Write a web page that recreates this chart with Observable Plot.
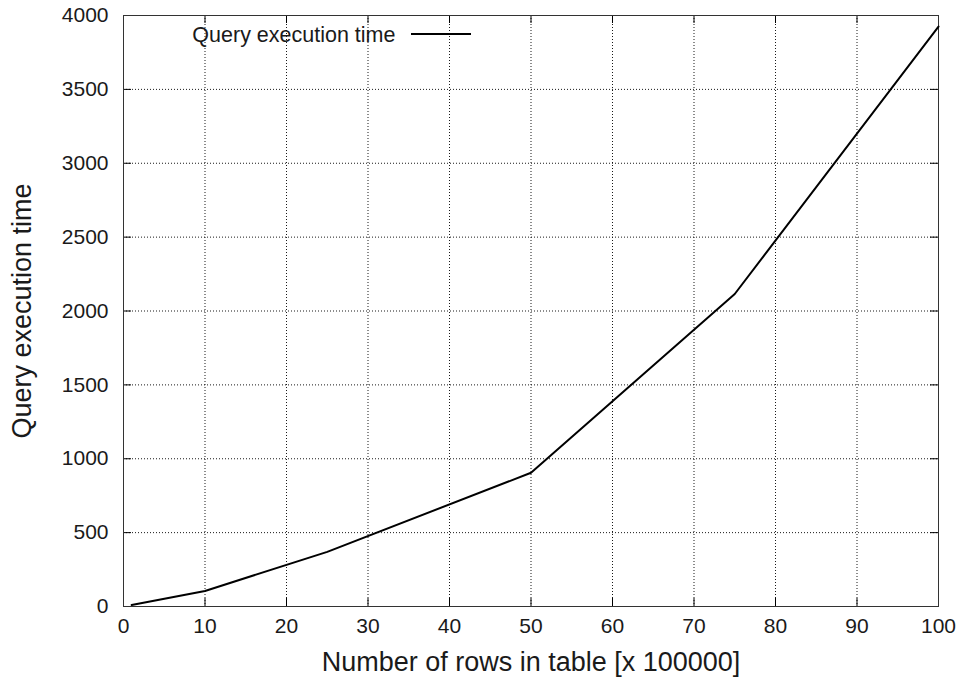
<!DOCTYPE html>
<html>
<head>
<meta charset="utf-8">
<script src="https://cdn.jsdelivr.net/npm/d3@7"></script>
<script src="https://cdn.jsdelivr.net/npm/@observablehq/plot@0.6"></script>
<style>
  html, body { margin: 0; padding: 0; background: #fff; }
  #wrap { position: relative; width: 966px; height: 677px; font-family: "Liberation Sans", Arial, sans-serif; }
  #legend { position: absolute; left: 0; top: 0; width: 966px; height: 677px; pointer-events: none; }
  #legend .sw { position: absolute; left: 411px; top: 33px; width: 60px; height: 0; border-top: 2px solid #000; }
</style>
</head>
<body>
<div id="wrap"></div>
<script>
const rows = [1, 10, 25, 50, 75, 100];
const times = [10, 105, 370, 905, 2115, 3925];
const xTicks = [0, 10, 20, 30, 40, 50, 60, 70, 80, 90, 100];
const yTicks = [0, 500, 1000, 1500, 2000, 2500, 3000, 3500, 4000];
const seriesName = "Query execution time";
const xTitle = "Number of rows in table [x 100000]";
const yTitle = "Query execution time";

const data = rows.map((r, i) => ({rows: r, time: times[i]}));

const W = 966, H = 677, mL = 123, mR = 28, mT = 15, mB = 71;
const plotW = W - mL - mR, plotH = H - mT - mB;
const font = "Liberation Sans, Arial, sans-serif";
const ink = "#1a1a1a";

const chart = Plot.plot({
  width: W,
  height: H,
  marginLeft: mL,
  marginRight: mR,
  marginTop: mT,
  marginBottom: mB,
  style: {fontFamily: font, background: "#fff", color: ink},
  x: {domain: [0, 100], axis: null},
  y: {domain: [0, 4000], axis: null},
  marks: [
    Plot.gridX(xTicks, {stroke: "#000", strokeOpacity: 0.9, strokeDasharray: "1,2"}),
    Plot.gridY(yTicks, {stroke: "#000", strokeOpacity: 0.9, strokeDasharray: "1,2"}),
    // inward ticks on all four sides
    Plot.tickX(xTicks, {x: d => d, stroke: "#000", insetTop: plotH - 8}),
    Plot.tickX(xTicks, {x: d => d, stroke: "#000", insetBottom: plotH - 8}),
    Plot.tickY(yTicks, {y: d => d, stroke: "#000", insetRight: plotW - 8}),
    Plot.tickY(yTicks, {y: d => d, stroke: "#000", insetLeft: plotW - 8}),
    Plot.frame({stroke: "#333"}),
    // tick labels
    Plot.text(xTicks, {x: d => d, text: d => String(d), frameAnchor: "bottom", dy: 12, lineAnchor: "top", textAnchor: "middle", fontSize: 21, fill: ink}),
    Plot.text(yTicks, {y: d => d, text: d => String(d), frameAnchor: "left", dx: -15, lineAnchor: "middle", textAnchor: "end", fontSize: 21, fill: ink}),
    Plot.line(data, {x: "rows", y: "time", stroke: "#000", strokeWidth: 2}),
    // legend label
    Plot.text([seriesName], {text: d => d, frameAnchor: "top-left", dx: 272, dy: 19.5, lineAnchor: "middle", textAnchor: "end", fontSize: 21.5, fill: ink}),
    Plot.text([xTitle], {text: d => d, frameAnchor: "bottom", dy: 56, fontSize: 27, fill: ink, lineAnchor: "middle", textAnchor: "middle"}),
    Plot.text([yTitle], {text: d => d, frameAnchor: "left", dx: -101, rotate: -90, fontSize: 27, fill: ink, lineAnchor: "middle", textAnchor: "middle"})
  ]
});

const wrap = document.getElementById("wrap");
wrap.appendChild(chart);
const legend = document.createElement("div");
legend.id = "legend";
legend.innerHTML = `<div class="sw"></div>`;
wrap.appendChild(legend);
</script>
</body>
</html>
